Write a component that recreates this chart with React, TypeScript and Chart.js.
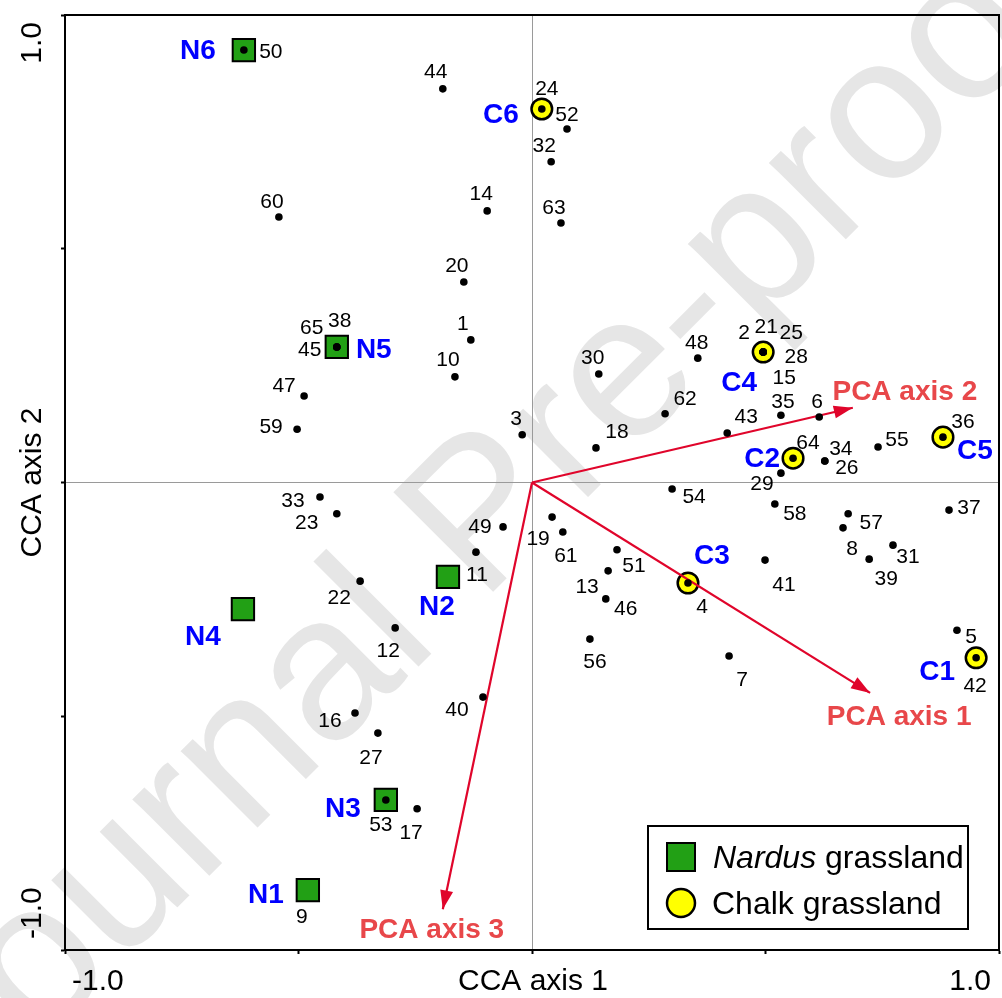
import { useEffect, useRef } from 'react';
import { Chart, registerables } from 'chart.js';

Chart.register(...registerables);

const FONT = '"Liberation Sans", Arial, Helvetica, sans-serif';

// ---------------- data ----------------
const sampleIds = [
  '1', '2', '3', '4', '5', '6', '7', '8', '9', '10',
  '11', '12', '13', '14', '15', '16', '17', '18', '19', '20',
  '21', '22', '23', '24', '25', '26', '27', '28', '29', '30',
  '31', '32', '33', '34', '35', '36', '37', '38', '39', '40',
  '41', '42', '43', '44', '45', '46', '47', '48', '49', '50',
  '51', '52', '53', '54', '55', '56', '57', '58', '59', '60',
  '61', '62', '63', '64', '65',
];
const sampleX = [
  -0.131, 0.495, -0.021, 0.334, 0.910, 0.615, 0.422, 0.666, -0.480, -0.165,
  -0.120, -0.293, 0.163, -0.096, 0.495, -0.379, -0.246, 0.137, 0.043, -0.146,
  0.495, -0.368, -0.418, 0.021, 0.495, 0.627, -0.330, 0.495, 0.533, 0.143,
  0.773, 0.041, -0.454, 0.627, 0.533, 0.880, 0.893, -0.418, 0.722, -0.105,
  0.499, 0.951, 0.418, -0.191, -0.418, 0.158, -0.488, 0.355, -0.062, -0.617,
  0.182, 0.075, -0.313, 0.300, 0.741, 0.124, 0.677, 0.520, -0.503, -0.542,
  0.066, 0.285, 0.062, 0.559, -0.418,
];
const sampleY = [
  0.305, 0.279, 0.102, -0.215, -0.316, 0.140, -0.371, -0.097, -0.872, 0.226,
  -0.149, -0.311, -0.189, 0.581, 0.279, -0.493, -0.698, 0.074, -0.074, 0.429,
  0.279, -0.211, -0.067, 0.799, 0.279, 0.046, -0.536, 0.279, 0.020, 0.232,
  -0.134, 0.686, -0.031, 0.046, 0.144, 0.097, -0.059, 0.290, -0.164, -0.459,
  -0.166, -0.375, 0.106, 0.842, 0.290, -0.249, 0.185, 0.266, -0.095, 0.925,
  -0.144, 0.756, -0.679, -0.014, 0.076, -0.335, -0.067, -0.046, 0.114, 0.568,
  -0.106, 0.147, 0.555, 0.052, 0.290,
];
// samples whose dot is hidden under a site marker
const hiddenDots = ['9'];

const nardusSites = ['N1', 'N2', 'N3', 'N4', 'N5', 'N6'];
const nardusX = [-0.480, -0.180, -0.313, -0.619, -0.418, -0.617];
const nardusY = [-0.872, -0.202, -0.679, -0.271, 0.290, 0.925];

const chalkSites = ['C1', 'C2', 'C3', 'C4', 'C5', 'C6'];
const chalkX = [0.951, 0.559, 0.334, 0.495, 0.880, 0.021];
const chalkY = [-0.375, 0.052, -0.215, 0.279, 0.097, 0.799];

const pcaAxes = ['PCA axis 1', 'PCA axis 2', 'PCA axis 3'];
const pcaX = [0.724, 0.687, -0.191];
const pcaY = [-0.450, 0.160, -0.913];

const axisMin = -1;
const axisMax = 1;
const axisStep = 0.5;
const xTitle = 'CCA axis 1';
const yTitle = 'CCA axis 2';
const legendNardusItalic = 'Nardus';
const legendNardusRest = ' grassland';
const legendChalk = 'Chalk grassland';
const watermarkText = 'Journal Pre-proof';

// ---------------- layout (label placement, px from marker) ----------------
const sampleLabelOffsets: Record<string, [number, number]> = {
  '1': [-8, -17], '2': [-19, -21], '3': [-6, -17], '4': [14, 22], '5': [14, 5],
  '6': [-2, -17], '7': [13, 23], '8': [9, 20], '9': [-6, 25], '10': [-7, -18],
  '11': [1, 21], '12': [-7, 22], '13': [-21, 15], '14': [-6, -18], '15': [21, 24],
  '16': [-25, 7], '17': [-6, 23], '18': [21, -17], '19': [-14, 20], '20': [-7, -17],
  '21': [3, -27], '22': [-21, 15], '23': [-30, 8], '24': [5, -21], '25': [28, -21],
  '26': [22, 5], '27': [-7, 23], '28': [33, 3], '29': [-19, 9], '30': [-6, -18],
  '31': [15, 10], '32': [-7, -17], '33': [-27, 2], '34': [16, -14], '35': [2, -15],
  '36': [20, -17], '37': [20, -4], '38': [3, -27], '39': [17, 18], '40': [-26, 11],
  '41': [19, 23], '42': [-1, 27], '43': [19, -17], '44': [-7, -18], '45': [-27, 2],
  '46': [20, 9], '47': [-20, -12], '48': [-1, -17], '49': [-23, -1], '50': [27, 0],
  '51': [17, 15], '52': [0, -16], '53': [-5, 24], '54': [22, 6], '55': [19, -8],
  '56': [5, 21], '57': [23, 8], '58': [20, 8], '59': [-26, -4], '60': [-7, -16],
  '61': [3, 22], '62': [20, -16], '63': [-7, -17], '64': [15, -17], '65': [-25, -20],
};
const siteLabelOffsets: Record<string, [number, number]> = {
  N1: [-42, 3], N2: [-11, 28], N3: [-43, 7], N4: [-40, 26], N5: [37, 1], N6: [-46, -1],
  C1: [-39, 12], C2: [-31, -1], C3: [24, -29], C4: [-24, 29], C5: [32, 12], C6: [-41, 4],
};
const pcaLabelOffsets: [number, number][] = [[29, 22], [52, -18], [-11, 19]];

const GREEN = '#22A015';
const YELLOW = '#FFFF00';
const ARROW_RED = '#E0052B';
const LABEL_RED = '#E8474A';
const SITE_BLUE = '#0000FF';
const ZERO_GREY = '#9a9a9a';

const cap = (size: number) => size * 0.358;

const watermarkPlugin = {
  id: 'watermark',
  beforeDraw(chart: any) {
    const { ctx } = chart;
    ctx.save();
    ctx.translate(488, 522);
    ctx.rotate(-Math.PI / 4);
    ctx.font = `205px ${FONT}`;
    ctx.fillStyle = '#e6e6e6';
    ctx.textAlign = 'center';
    ctx.textBaseline = 'alphabetic';
    ctx.fillText(watermarkText, 0, 53);
    ctx.restore();
  },
};

const metaOf = (chart: any, kind: string) =>
  chart.getDatasetMeta(chart.data.datasets.findIndex((d: any) => d.kind === kind));

const labelPlugin = {
  id: 'labels',
  afterDatasetsDraw(chart: any) {
    const { ctx } = chart;
    ctx.save();
    // arrow heads
    const origin = { x: chart.scales.x.getPixelForValue(0), y: chart.scales.y.getPixelForValue(0) };
    chart.data.datasets.forEach((d: any, di: number) => {
      if (d.kind !== 'pca') return;
      const pts = chart.getDatasetMeta(di).data;
      const tip = pts[pts.length - 1];
      const ang = Math.atan2(tip.y - origin.y, tip.x - origin.x);
      const L = 19, W = 6.5;
      const bx = tip.x - L * Math.cos(ang), by = tip.y - L * Math.sin(ang);
      ctx.fillStyle = ARROW_RED;
      ctx.beginPath();
      ctx.moveTo(tip.x, tip.y);
      ctx.lineTo(bx - W * Math.sin(ang), by + W * Math.cos(ang));
      ctx.lineTo(bx + W * Math.sin(ang), by - W * Math.cos(ang));
      ctx.closePath();
      ctx.fill();
      const [dx, dy] = pcaLabelOffsets[d.axisIndex];
      ctx.font = `bold 28px ${FONT}`;
      ctx.fillStyle = LABEL_RED;
      ctx.textAlign = 'center';
      ctx.textBaseline = 'alphabetic';
      ctx.fillText(pcaAxes[d.axisIndex], tip.x + dx, tip.y + dy + cap(28));
    });

    // sample numbers
    ctx.font = `21px ${FONT}`;
    ctx.fillStyle = '#000';
    ctx.textAlign = 'center';
    ctx.textBaseline = 'alphabetic';
    metaOf(chart, 'samples').data.forEach((pt: any, i: number) => {
      const id = sampleIds[i];
      const [dx, dy] = sampleLabelOffsets[id] || [0, -17];
      ctx.fillText(id, pt.x + dx, pt.y + dy + cap(21));
    });

    // site names
    ctx.font = `bold 28px ${FONT}`;
    ctx.fillStyle = SITE_BLUE;
    const drawSites = (kind: string, names: string[]) => {
      metaOf(chart, kind).data.forEach((pt: any, i: number) => {
        const [dx, dy] = siteLabelOffsets[names[i]] || [0, 0];
        ctx.fillText(names[i], pt.x + dx, pt.y + dy + cap(28));
      });
    };
    drawSites('nardus', nardusSites);
    drawSites('chalk', chalkSites);
    ctx.restore();
  },
};

const framePlugin = {
  id: 'frame',
  afterDraw(chart: any) {
    const { ctx, chartArea: a, scales } = chart;
    ctx.save();
    ctx.strokeStyle = '#000';
    ctx.lineWidth = 2;
    ctx.beginPath();
    ctx.moveTo(a.left - 1, a.top);
    ctx.lineTo(a.right, a.top);
    ctx.lineTo(a.right, a.bottom + 1);
    ctx.stroke();

    ctx.fillStyle = '#000';
    ctx.font = `30px ${FONT}`;
    ctx.textBaseline = 'alphabetic';
    const xs = scales.x;
    xs.ticks.forEach((t: any) => {
      if (Math.abs(t.value) !== 1) return;
      const px = xs.getPixelForValue(t.value);
      ctx.textAlign = t.value < 0 ? 'left' : 'right';
      ctx.fillText(t.value.toFixed(1), px + (t.value < 0 ? 7 : -8), a.bottom + 40);
    });
    ctx.textAlign = 'center';
    ctx.fillText(xTitle, (a.left + a.right) / 2 + 1, a.bottom + 40);

    const ys = scales.y;
    ys.ticks.forEach((t: any) => {
      if (Math.abs(t.value) !== 1) return;
      const py = ys.getPixelForValue(t.value);
      ctx.save();
      ctx.translate(a.left - 24, py + (t.value > 0 ? 7 : -11));
      ctx.rotate(-Math.PI / 2);
      ctx.textAlign = t.value > 0 ? 'right' : 'left';
      ctx.fillText(t.value.toFixed(1), 0, 0);
      ctx.restore();
    });
    ctx.save();
    ctx.translate(a.left - 24, (a.top + a.bottom) / 2);
    ctx.rotate(-Math.PI / 2);
    ctx.textAlign = 'center';
    ctx.fillText(yTitle, 0, 0);
    ctx.restore();

    // legend
    const bx = a.right - 351, by = a.bottom - 124, bw = 320, bh = 103;
    ctx.fillStyle = '#fff';
    ctx.fillRect(bx, by, bw, bh);
    ctx.strokeStyle = '#000';
    ctx.lineWidth = 2;
    ctx.strokeRect(bx, by, bw, bh);
    const mx = bx + 33;
    const y1 = by + 31, y2 = by + 77;
    ctx.fillStyle = GREEN;
    ctx.fillRect(mx - 14, y1 - 14, 28, 28);
    ctx.strokeRect(mx - 14, y1 - 14, 28, 28);
    ctx.beginPath();
    ctx.arc(mx, y2, 14, 0, Math.PI * 2);
    ctx.fillStyle = YELLOW;
    ctx.fill();
    ctx.lineWidth = 2.5;
    ctx.stroke();
    ctx.fillStyle = '#000';
    ctx.textAlign = 'left';
    const tx = bx + 65;
    ctx.font = `italic 32px ${FONT}`;
    ctx.fillText(legendNardusItalic, tx, y1 + cap(32));
    const w = ctx.measureText(legendNardusItalic).width;
    ctx.font = `32px ${FONT}`;
    ctx.fillText(legendNardusRest, tx + w, y1 + cap(32));
    ctx.fillText(legendChalk, tx - 1, y2 + cap(32));
    ctx.restore();
  },
};

export default function App() {
  const ref = useRef<HTMLCanvasElement>(null);
  useEffect(() => {
    const canvas = ref.current;
    if (!canvas) return;
    const gridColor = (c: any) => (c.tick && c.tick.value === 0 ? ZERO_GREY : 'rgba(0,0,0,0)');
    const chart = new Chart(canvas, {
      type: 'scatter',
      data: {
        datasets: [
          {
            kind: 'samples',
            data: sampleIds.map((_, i) => ({ x: sampleX[i], y: sampleY[i] })),
            pointRadius: (c: any) => (hiddenDots.includes(sampleIds[c.dataIndex]) ? 0 : 3.8),
            pointBackgroundColor: '#000',
            pointBorderWidth: 0,
            showLine: false,
          },
          ...pcaAxes.map((_, i) => ({
            kind: 'pca',
            axisIndex: i,
            data: [{ x: 0, y: 0 }, { x: pcaX[i], y: pcaY[i] }],
            showLine: true,
            borderColor: ARROW_RED,
            borderWidth: 2.2,
            pointRadius: 0,
            fill: false,
          })),
          {
            kind: 'chalk',
            data: chalkSites.map((_, i) => ({ x: chalkX[i], y: chalkY[i] })),
            pointStyle: 'circle',
            pointRadius: 10.3,
            pointBackgroundColor: YELLOW,
            pointBorderColor: '#000',
            pointBorderWidth: 2.5,
            showLine: false,
          },
          {
            kind: 'nardus',
            data: nardusSites.map((_, i) => ({ x: nardusX[i], y: nardusY[i] })),
            pointStyle: 'rect',
            pointRadius: 15.8,
            pointBackgroundColor: GREEN,
            pointBorderColor: '#000',
            pointBorderWidth: 2,
            showLine: false,
          },
        ] as any,
      },
      options: {
        responsive: false,
        animation: false,
        events: [],
        layout: { autoPadding: false, padding: { left: 0, right: 3, top: 15, bottom: 0 } },
        plugins: { legend: { display: false }, tooltip: { enabled: false } },
        scales: {
          x: {
            type: 'linear',
            min: axisMin,
            max: axisMax,
            ticks: { display: false, stepSize: axisStep },
            grid: { color: gridColor, lineWidth: 1, drawTicks: true, tickLength: 4, tickColor: '#000', tickWidth: 2 },
            border: { display: true, color: '#000', width: 2 },
            afterFit: (s: any) => { s.height = 48; },
          },
          y: {
            type: 'linear',
            min: axisMin,
            max: axisMax,
            ticks: { display: false, stepSize: axisStep },
            grid: { color: gridColor, lineWidth: 1, drawTicks: true, tickLength: 4, tickColor: '#000', tickWidth: 2 },
            border: { display: true, color: '#000', width: 2 },
            afterFit: (s: any) => { s.width = 65; },
          },
        },
      } as any,
      plugins: [watermarkPlugin, labelPlugin, framePlugin],
    });
    return () => chart.destroy();
  }, []);
  return (
    <div style={{ position: 'absolute', left: 0, top: 0, width: 1002, height: 998, background: '#fff' }}>
      <canvas ref={ref} width={1002} height={998} style={{ display: 'block' }} />
    </div>
  );
}
